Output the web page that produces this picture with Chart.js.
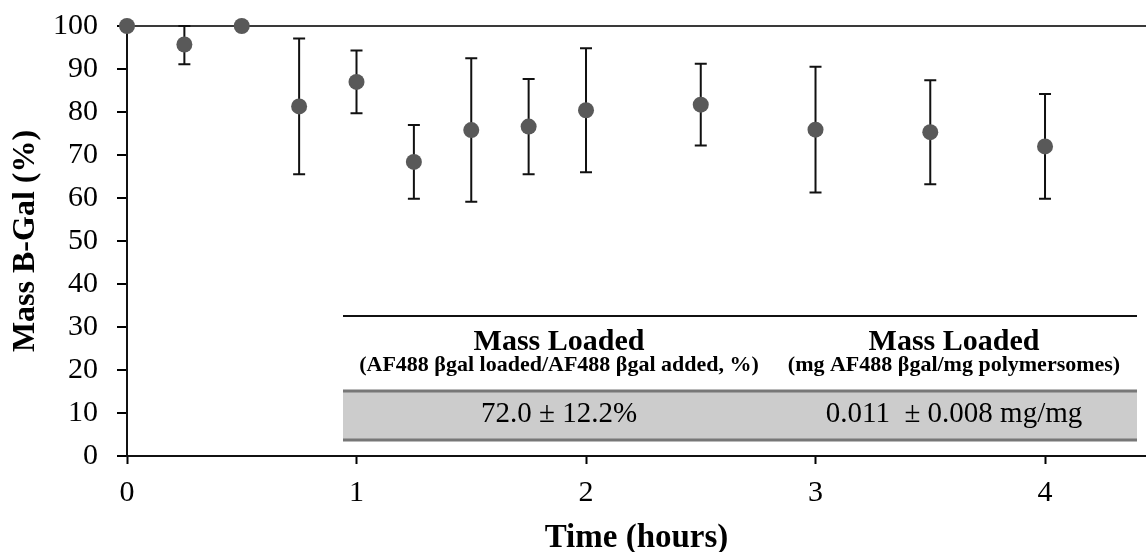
<!DOCTYPE html>
<html>
<head>
<meta charset="utf-8">
<script src="https://cdn.jsdelivr.net/npm/chart.js@4.4.1/dist/chart.umd.min.js"></script>
<style>
  html, body { margin: 0; padding: 0; background: #ffffff; }
  #wrap { position: relative; width: 1146px; height: 552px; }
</style>
</head>
<body>
<div id="wrap"><canvas id="chart"></canvas></div>
<script>
// Time points (hours)
const timeHours = [0, 0.25, 0.5, 0.75, 1, 1.25, 1.5, 1.75, 2, 2.5, 3, 3.5, 4];
// Mean mass of B-Gal retained (%)
const massPercent = [100, 95.7, 100, 81.3, 87.0, 68.4, 75.8, 76.6, 80.4, 81.7, 75.9, 75.3, 72.0];
// Standard deviation (%), null where no bar is drawn
const massSD = [null, 4.6, null, 15.8, 7.3, 8.6, 16.7, 11.1, 14.4, 9.5, 14.6, 12.1, 12.2];
// Axis tick labels
const xTickValues = [0, 1, 2, 3, 4];
const yTickStep = 10;

// Inset table contents
const tableHeaders = ['Mass Loaded', 'Mass Loaded'];
const tableSubHeaders = ['(AF488 \u03B2gal loaded/AF488 \u03B2gal added, %)', '(mg AF488 \u03B2gal/mg polymersomes)'];
const tableValues = ['72.0 \u00B1 12.2%', '0.011  \u00B1 0.008 mg/mg'];

const SERIF = "'Liberation Serif', 'Times New Roman', serif";

// Vertical error bars with caps, drawn under the markers
const errorBars = {
  id: 'errorBars',
  beforeDatasetsDraw(chart) {
    const { ctx, scales: { x, y } } = chart;
    ctx.save();
    ctx.strokeStyle = '#111111';
    ctx.lineWidth = 2;
    const cap = 6;
    timeHours.forEach((t, i) => {
      const sd = massSD[i];
      if (sd == null) return;
      const px = x.getPixelForValue(t);
      const top = y.getPixelForValue(Math.min(massPercent[i] + sd, 100));
      const bot = y.getPixelForValue(massPercent[i] - sd);
      ctx.beginPath();
      ctx.moveTo(px, top); ctx.lineTo(px, bot);
      ctx.moveTo(px - cap, top); ctx.lineTo(px + cap, top);
      ctx.moveTo(px - cap, bot); ctx.lineTo(px + cap, bot);
      ctx.stroke();
    });
    ctx.restore();
  }
};

// Inset summary table in the lower right of the plot
const insetTable = {
  id: 'insetTable',
  afterDraw(chart) {
    const ctx = chart.ctx;
    const left = 343, right = 1137;
    const cols = [559, 954];
    ctx.save();
    // top rule
    ctx.strokeStyle = '#111111';
    ctx.lineWidth = 2;
    ctx.beginPath();
    ctx.moveTo(left, 316); ctx.lineTo(right, 316);
    ctx.stroke();
    // shaded value row
    ctx.fillStyle = '#cccccc';
    ctx.fillRect(left, 391, right - left, 49);
    ctx.strokeStyle = '#777777';
    ctx.lineWidth = 3;
    ctx.beginPath();
    ctx.moveTo(left, 391); ctx.lineTo(right, 391);
    ctx.moveTo(left, 440); ctx.lineTo(right, 440);
    ctx.stroke();
    // text
    ctx.fillStyle = '#000000';
    ctx.textAlign = 'center';
    ctx.textBaseline = 'middle';
    cols.forEach((cx, i) => {
      ctx.font = 'bold 30px ' + SERIF;
      ctx.fillText(tableHeaders[i], cx, 342);
      ctx.font = 'bold 22px ' + SERIF;
      ctx.fillText(tableSubHeaders[i], cx, 365);
      ctx.font = '29px ' + SERIF;
      ctx.fillText(tableValues[i], cx, 414);
    });
    ctx.restore();
  }
};

new Chart(document.getElementById('chart'), {
  type: 'scatter',
  data: {
    datasets: [{
      data: timeHours.map((t, i) => ({ x: t, y: massPercent[i] })),
      backgroundColor: '#595959',
      borderWidth: 0,
      pointRadius: 8,
      pointHoverRadius: 8,
      showLine: false,
      clip: false
    }]
  },
  plugins: [errorBars, insetTable],
  options: {
    responsive: true,
    maintainAspectRatio: false,
    animation: false,
    devicePixelRatio: 1,
    layout: { autoPadding: false, padding: { top: 26, right: 0, bottom: 0, left: 0 } },
    plugins: { legend: { display: false }, tooltip: { enabled: false } },
    scales: {
      x: {
        type: 'linear',
        min: 0,
        max: 4.44,
        afterBuildTicks(scale) { scale.ticks = xTickValues.map(v => ({ value: v })); },
        afterFit(scale) { scale.height = 96; scale.paddingLeft = 0; scale.paddingRight = 0; },
        ticks: { color: '#000000', font: { family: SERIF, size: 30 }, padding: 11 },
        grid: { drawOnChartArea: false, drawTicks: true, tickLength: 8, tickColor: '#000000', tickWidth: 2 },
        border: { display: true, color: '#111111', width: 2 },
        title: {
          display: true, text: 'Time (hours)', color: '#000000',
          font: { family: SERIF, size: 33, weight: 'bold', lineHeight: 0.8 },
          padding: { top: 0, bottom: 0 }
        }
      },
      y: {
        min: 0,
        max: 100,
        afterFit(scale) { scale.width = 127; scale.paddingTop = 0; scale.paddingBottom = 0; },
        ticks: { stepSize: yTickStep, color: '#000000', font: { family: SERIF, size: 30 }, padding: 19 },
        grid: {
          drawOnChartArea: true,
          color: c => (c.tick && c.tick.value === 100 ? '#3a3a3a' : 'rgba(0,0,0,0)'),
          lineWidth: 2,
          drawTicks: true, tickLength: 10, tickColor: '#000000', tickWidth: 2
        },
        border: { display: true, color: '#111111', width: 2 },
        title: {
          display: true, text: 'Mass B-Gal (%)', color: '#000000',
          font: { family: SERIF, size: 32, weight: 'bold', lineHeight: 1 },
          padding: { top: 10, bottom: 0 }
        }
      }
    }
  }
});
</script>
</body>
</html>
